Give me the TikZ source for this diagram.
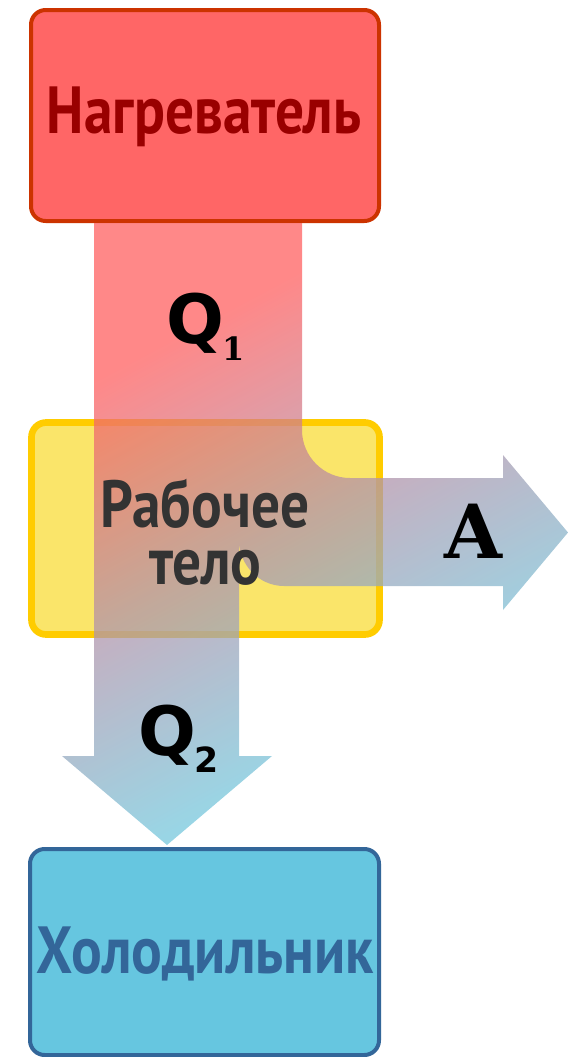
\documentclass[tikz,border=0pt]{standalone}
\usepackage{fontspec}
\newfontfamily\boxfont[FakeStretch=0.86]{PT Sans}
\newfontfamily\symfont{DejaVu Serif}
\newfontfamily\symsans{DejaVu Sans}

\definecolor{heaterfill}{RGB}{255,102,102}
\definecolor{heaterdraw}{RGB}{204,51,0}
\definecolor{heatertext}{RGB}{153,0,0}
\definecolor{bodyfill}{RGB}{250,229,106}
\definecolor{bodydraw}{RGB}{255,204,0}
\definecolor{bodytext}{RGB}{51,51,51}
\definecolor{coolerfill}{RGB}{102,198,224}
\definecolor{coolerdraw}{RGB}{51,102,153}
\definecolor{flowhot}{RGB}{255,96,96}
\definecolor{flowmid}{RGB}{177,148,171}
\definecolor{flowcold}{RGB}{119,199,220}

\pgfdeclareverticalshading{flowshade}{100bp}{color(0bp)=(flowcold); color(37.5bp)=(flowcold); color(49.4bp)=(flowmid); color(61.7bp)=(flowhot); color(100bp)=(flowhot)}

\tikzset{every picture/.style={line width=0.75pt}}
\tikzset{
	tankbox/.style={rectangle, rounded corners=11pt, inner sep=0pt},
	tanklabel/.style={inner sep=0pt, anchor=base, font=\boxfont\bfseries\fontsize{50}{42.75}\selectfont},
	flowlabel/.style={inner sep=0pt, anchor=base west, font=\bfseries}}

\begin{document}
\begin{tikzpicture}[x=0.75pt,y=0.75pt,yscale=-1,xscale=1]
	\useasboundingbox (0,0) rectangle (568,1057);

	%Shape: Rectangle [id:heater] 
	\node [tankbox, draw=heaterdraw, fill=heaterfill, line width=3pt, minimum width=261pt, minimum height=158.25pt] (heater) at (205,115.5) {};
	%Shape: Rectangle [id:body] 
	\node [tankbox, draw=bodydraw, fill=bodyfill, line width=5pt, minimum width=261pt, minimum height=159pt] (body) at (205.5,528.5) {};
	%Shape: Rectangle [id:cooler] 
	\node [tankbox, draw=coolerdraw, fill=coolerfill, line width=3pt, minimum width=261.75pt, minimum height=154.5pt] (cooler) at (204.5,952) {};

	%Shape: Bent Arrow [id:flow] 
	\begin{scope}
	\clip (94,223) -- (94,756) -- (62,756) -- (167,845) -- (272,756) -- (239,756) -- (239,540) .. controls (239,565) and (259,586) .. (284,586) -- (503,586) -- (503,610) -- (568,532.5) -- (503,455) -- (503,478) -- (350,478) .. controls (323.5,478) and (302,456.5) .. (302,430) -- (302,223) -- cycle ;
	\shade [shading=flowshade, shading angle=28, fill opacity=0.75] (-135,50.9) rectangle (765,950.9) ;
	\end{scope}

	% Text Node
	\node [tanklabel, text=heatertext] (heaterlabel) at (204,133) {Нагреватель};
	% Text Node
	\node [tanklabel, text=bodytext] (bodylabel) at (205,527) {Рабочее};
	% Text Node
	\node [tanklabel, text=bodytext] (bodylabel2) at (205.5,584) {тело};
	% Text Node
	\node [tanklabel, text=coolerdraw] (coolerlabel) at (205,973) {Холодильник};
	% Text Node
	\node [flowlabel] (qhot) at (166,343) {\symsans\fontsize{51}{51}\selectfont Q\kern-1pt\raisebox{-12.75pt}{\symfont\fontsize{24}{24}\selectfont 1}};
	% Text Node
	\node [flowlabel] (qcold) at (138,755) {\symsans\fontsize{51}{51}\selectfont Q\kern-1pt\raisebox{-12.75pt}{\fontsize{26}{26}\selectfont 2}};
	% Text Node
	\node [flowlabel] (work) at (444,558) {\symfont\fontsize{56}{56}\selectfont A};

\end{tikzpicture}
\end{document}
